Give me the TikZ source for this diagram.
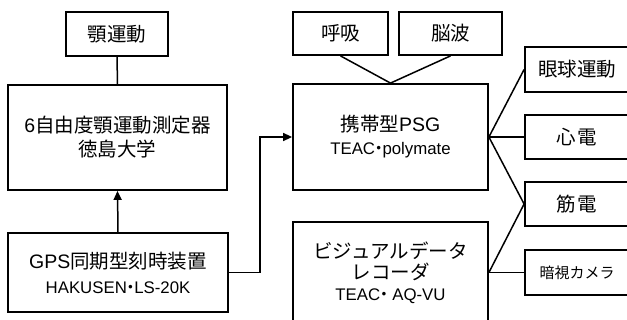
\documentclass[tikz,border=0pt]{standalone}
\usepackage{fontspec}
\setmainfont{Liberation Sans}
\newfontfamily\jp{Noto Sans CJK JP}
\usetikzlibrary{arrows.meta}
\newcommand{\bigf}{\fontsize{19.5}{24}\selectfont}
\newcommand{\subf}{\fontsize{16.8}{22}\selectfont}
\newcommand{\camf}{\fontsize{15}{20}\selectfont}
\newcommand{\dotj}{\kern-0.28em{\jp ・}\kern-0.28em}
\begin{document}
\begin{tikzpicture}[x=1pt,y=-1pt,
  box/.style={draw, line width=1.8pt, inner sep=0pt, align=center, font=\bigf},
  conn/.style={line width=1.5pt},
  arr/.style={conn, -{Triangle[length=9pt,width=8pt]}}]
\useasboundingbox (0,0) rectangle (627,320);
\clip (0,0) rectangle (627,320);
\fill[white] (0,0) rectangle (627,320);
% left column
\node[box, minimum width=102pt, minimum height=44pt] (jaw) at (117,34) {{\jp 顎運動}};
\node[box, minimum width=219pt, minimum height=105pt] (six) at (117.5,137.5)
  {6{\jp 自由度顎運動測定器}\\{\jp 徳島大学}};
\node[box, minimum width=220pt, minimum height=79pt] (gps) at (118,272.5)
  {GPS{\jp 同期型刻時装置}\\[1pt]{\subf HAKUSEN\dotj LS-20K}};
% middle column
\node[box, minimum width=95pt, minimum height=43pt] (kokyu) at (340.5,33.5) {{\jp 呼吸}};
\node[box, minimum width=103pt, minimum height=43pt] (nouha) at (450.5,33.5) {{\jp 脳波}};
\node[box, minimum width=195pt, minimum height=106pt] (psg) at (390.5,137)
  {{\jp 携帯型}PSG\\[-1pt]{\subf TEAC\dotj polymate}};
\node[box, minimum width=195pt, minimum height=101pt] (vdr) at (390.5,272.5)
  {{\jp ビジュアルデータ}\\[-3pt]{\jp レコーダ}\\[-3pt]{\subf TEAC\dotj\ AQ-VU}};
% right column
\node[box, minimum width=104pt, minimum height=45pt] (eye) at (577,69.5) {{\jp 眼球運動}};
\node[box, minimum width=104pt, minimum height=44pt] (ecg) at (577,137) {{\jp 心\hspace{2pt}電}};
\node[box, minimum width=104pt, minimum height=44pt] (emg) at (577,204) {{\jp 筋\hspace{2pt}電}};
\node[box, minimum width=104pt, minimum height=45pt, font=\camf] (cam) at (577,272.5) {{\jp 暗視カメラ}};
% connectors
\coordinate (bend) at (260,0);
\draw[conn] (jaw.south) -- (six.north);
\draw[arr] (gps.north) -- (six.south);
\draw[arr] (gps.east) -- (gps.east -| bend) -- (bend |- psg.west) -- (psg.west);
\draw[conn] (kokyu.south) -- (psg.north);
\draw[conn] (nouha.south) -- (psg.north);
\draw[conn] (psg.east) -- (eye.west);
\draw[conn] (psg.east) -- (ecg.west);
\draw[conn] (psg.east) -- (emg.west);
\draw[conn] (vdr.east) -- (emg.west);
\draw[conn] (vdr.east) -- (cam.west);
\end{tikzpicture}
\end{document}
